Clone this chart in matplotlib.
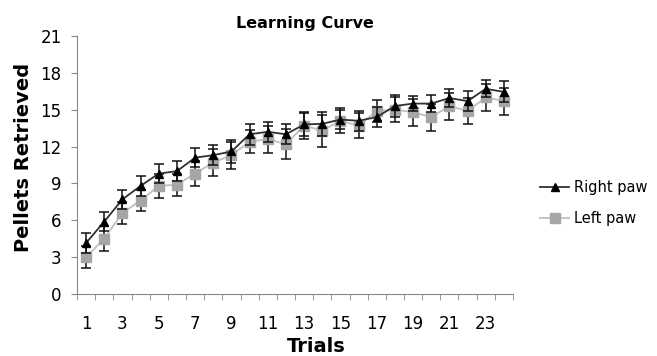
import matplotlib.pyplot as plt
from matplotlib.lines import Line2D
import numpy as np

trials = np.arange(1, 25)
right_paw = [4.15, 5.9, 7.7, 8.8, 9.8, 10.0, 11.1, 11.3, 11.6, 13.0, 13.2, 13.0,
             13.8, 13.85, 14.2, 14.1, 14.4, 15.3, 15.5, 15.5, 15.95, 15.7, 16.7, 16.45]
right_err = [0.85, 0.8, 0.8, 0.8, 0.8, 0.8, 0.8, 0.8, 0.9, 0.85, 0.8, 0.8,
             0.9, 0.95, 0.8, 0.8, 0.8, 0.9, 0.6, 0.7, 0.75, 0.8, 0.7, 0.85]
left_paw = [3.0, 4.5, 6.6, 7.6, 8.8, 8.9, 9.8, 10.7, 11.3, 12.4, 12.6, 12.2,
            13.7, 13.3, 14.1, 13.7, 14.9, 15.0, 14.8, 14.4, 15.3, 14.9, 16.0, 15.7]
left_err = [0.9, 1.0, 0.9, 0.85, 1.0, 0.9, 1.0, 1.1, 1.1, 0.95, 1.1, 1.2,
            1.1, 1.3, 1.0, 1.0, 0.9, 1.0, 1.1, 1.1, 1.1, 1.05, 1.1, 1.1]

fig = plt.figure(figsize=(6.57, 3.56), dpi=100)
ax = fig.add_axes([77 / 657, 62 / 356, 436 / 657, 258 / 356])

# left paw first so the black series sits on top
ax.errorbar(trials, left_paw, yerr=left_err, color='#c0c0c0', lw=1.3,
            marker='s', ms=6.5, mfc='#a6a6a6', mec='#a6a6a6',
            ecolor='#111111', elinewidth=1.1, capsize=3.3, capthick=1.1, zorder=2)
ax.errorbar(trials, right_paw, yerr=right_err, color='#303030', lw=1.3,
            marker='^', ms=6, mfc='black', mec='black',
            ecolor='#111111', elinewidth=1.1, capsize=3.3, capthick=1.1, zorder=3)

ax.set_xlim(0.5, 24.5)
ax.set_ylim(0, 21)
ax.set_yticks(range(0, 22, 3))
ax.set_xticks(range(1, 24, 2))
ax.set_xticks(np.arange(0.5, 25, 1), minor=True)
ax.tick_params(axis='x', which='major', length=0, pad=15, labelsize=12)
ax.tick_params(axis='x', which='minor', length=4, color='#888888', direction='out')
ax.tick_params(axis='y', length=4, color='#888888', labelsize=12, pad=7)

for s in ['top', 'right']:
    ax.spines[s].set_visible(False)
for s in ['left', 'bottom']:
    ax.spines[s].set_color('#888888')

ax.set_title('Learning Curve', fontsize=11.5, fontweight='bold', pad=6, x=0.523)
ax.set_xlabel('Trials', fontsize=14, fontweight='bold')
ax.xaxis.set_label_coords(0.548, -0.165)
ax.set_ylabel('Pellets Retrieved', fontsize=14, fontweight='bold')
ax.yaxis.set_label_coords(-0.1, 0.53)

handles = [
    Line2D([], [], color='#303030', lw=1.3, marker='^', ms=6, mfc='black', mec='black'),
    Line2D([], [], color='#c0c0c0', lw=1.3, marker='s', ms=6.5, mfc='#a6a6a6', mec='#a6a6a6'),
]
fig.legend(handles, ['Right paw', 'Left paw'], loc='center left',
           bbox_to_anchor=(527 / 657, 1 - 203 / 356), frameon=False, fontsize=10.5,
           handlelength=2.0, labelspacing=1.15, handletextpad=0.3)

fig.savefig('out.png', dpi=100)
